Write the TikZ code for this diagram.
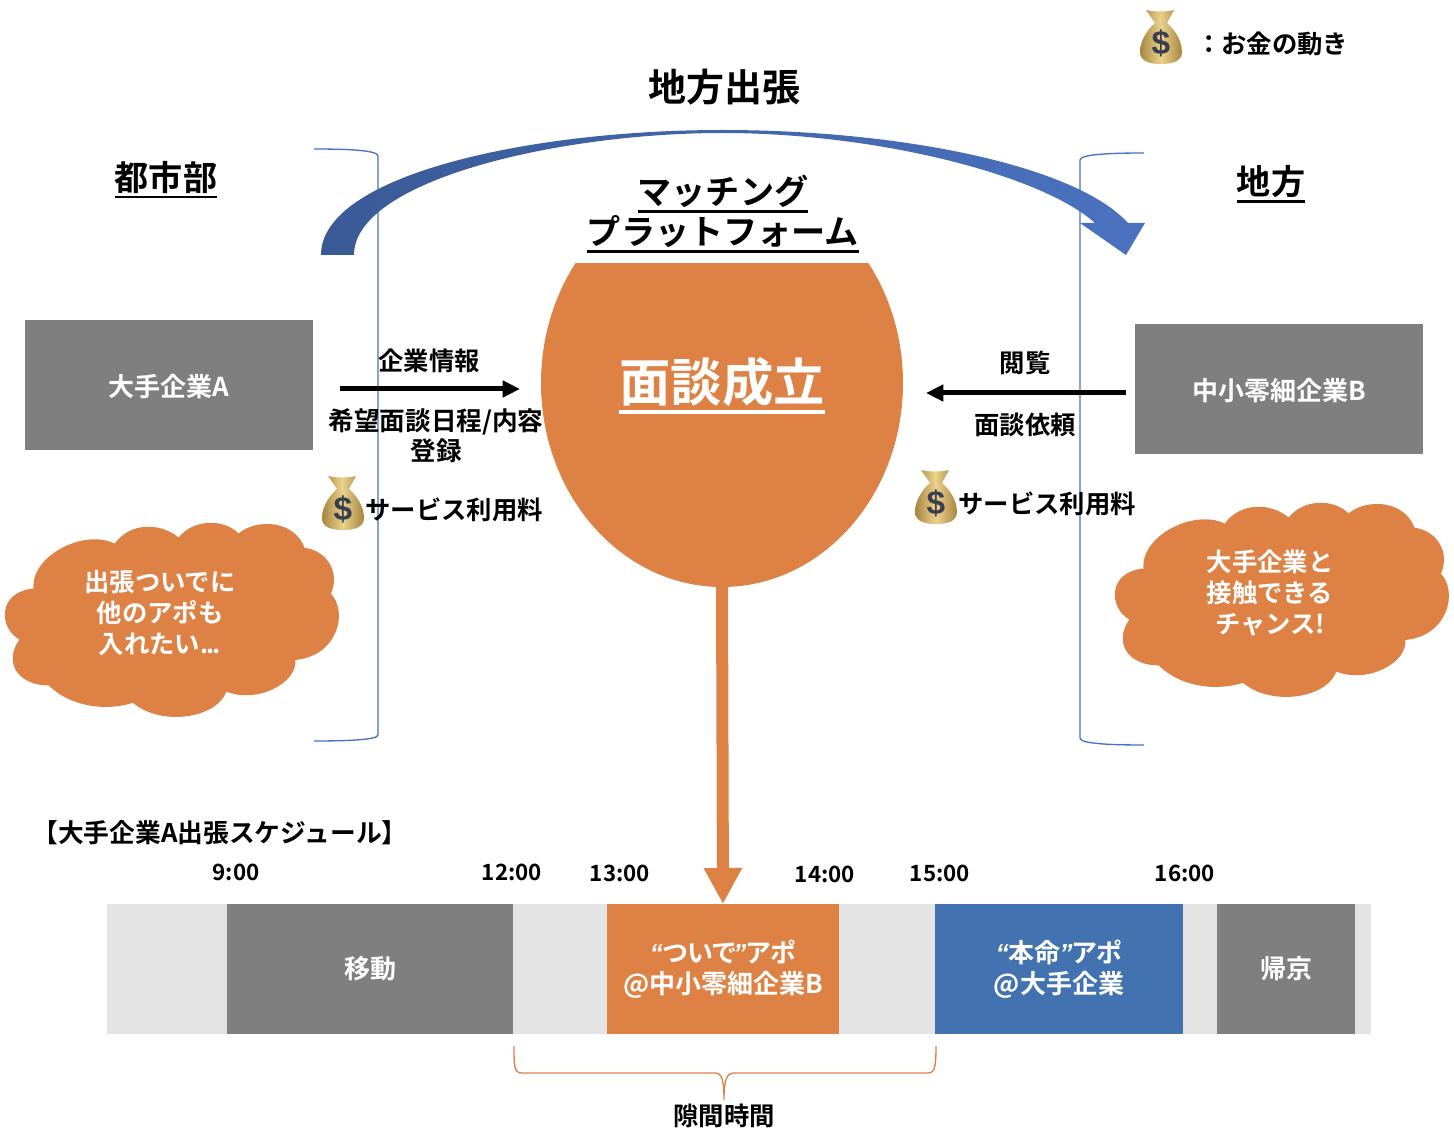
\documentclass[tikz,border=0pt]{standalone}
\usepackage{fontspec}
\setmainfont{Noto Sans CJK JP}[BoldFont={* Bold}]
\newfontfamily\latfont{Liberation Sans}[BoldFont={* Bold}]
\usetikzlibrary{arrows.meta,positioning,shapes.geometric}
\definecolor{Ink}{HTML}{000000}
\definecolor{Orange}{HTML}{DE8144}
\definecolor{GrayBox}{HTML}{7F7F7F}
\definecolor{BandGray}{HTML}{E4E4E4}
\definecolor{BlueBox}{HTML}{4272AF}
\definecolor{Bracket}{HTML}{4472C4}
\definecolor{ArrowDark}{HTML}{3A5A96}
\definecolor{ArrowLight}{HTML}{4A72BF}
\definecolor{BagDark}{HTML}{A98540}
\definecolor{BagLight}{HTML}{E9D28C}
\definecolor{BagMid}{HTML}{BD9A50}
\definecolor{Dollar}{HTML}{3A3F50}
\newcommand{\ultext}[1]{\vtop{\hbox{#1}\kern.06em\hrule height .075em}}
\newcommand{\qq}[1]{{\latfont\itshape #1}}
\newcommand{\palt}[1]{{\addfontfeature{RawFeature=+palt}#1}}
\newcommand{\padtop}[2]{\raisebox{0pt}[\dimexpr\height+#1\relax][\depth]{#2}}
\tikzset{
  companybox/.style={fill=GrayBox,minimum width=216pt,minimum height=97.5pt,inner sep=0pt,outer sep=0pt,align=center,font=\fontsize{19.5}{24}\selectfont\bfseries,text=white},
  slotbox/.style={minimum height=97.5pt,inner sep=0pt,outer sep=0pt,align=center,font=\fontsize{19.5}{23}\selectfont\bfseries,text=white},
  label/.style={inner sep=0pt,align=center,font=\fontsize{19}{22.5}\selectfont\bfseries,text=Ink},
  timelabel/.style={inner sep=0pt,font=\fontsize{16.8}{22}\selectfont\bfseries,text=Ink},
  headtext/.style={inner sep=0pt,align=center,font=\fontsize{25.6}{30}\selectfont\bfseries,text=Ink},
  cloudtext/.style={inner sep=0pt,align=center,font=\fontsize{19}{23.25}\selectfont\bfseries,text=white},
  platform/.style={ellipse,fill=Orange,minimum width=271.5pt,minimum height=306pt,inner sep=0pt,outer sep=0pt,font=\fontsize{38.5}{44}\selectfont\bfseries,text=white},
  sideline/.style={draw=Bracket,line width=1pt},
  flowline/.style={-{Triangle[length=13pt,width=12pt]},draw=Ink,line width=3.75pt},
  resultline/.style={-{Triangle[length=27pt,width=27pt]},draw=Orange,line width=9pt},
  gapline/.style={draw=Orange,line width=1pt},
  pics/thoughtcloud/.style={code={
    \fill[Orange,xshift=-1.5pt,xscale=1.015,yscale=1.02] (35,77) .. controls (32,45) and (85,18) .. (115,33)
      .. controls (130,12) and (160,12) .. (178,27)
      .. controls (192,9) and (222,8) .. (237,23)
      .. controls (255,8) and (292,10) .. (302,37)
      .. controls (325,40) and (337,62) .. (328,82)
      .. controls (345,100) and (335,143) .. (293,147)
      .. controls (295,170) and (255,190) .. (225,178)
      .. controls (215,205) and (160,212) .. (133,189)
      .. controls (105,198) and (70,192) .. (50,172)
      .. controls (20,172) and (5,150) .. (21,127)
      .. controls (0,115) and (0,80) .. (35,77) -- cycle;
  }},
  pics/moneybag/.style={code={
    \path[left color=BagDark,right color=BagDark,middle color=BagLight] (-6,-14)
      .. controls (-13,-8) and (-21,3) .. (-21,15)
      .. controls (-21,25) and (-10,27) .. (0,27)
      .. controls (10,27) and (21,25) .. (21,15)
      .. controls (21,3) and (13,-8) .. (6,-14) -- cycle;
    \path[left color=BagMid,right color=BagMid,middle color=BagLight] (-6,-14) -- (-15,-27)
      .. controls (-6,-25) and (5,-25) .. (13,-27) -- (6,-14)
      .. controls (2,-12) and (-2,-12) .. (-6,-14) -- cycle;
    \node[inner sep=0pt,text=Dollar,font=\latfont\bfseries\fontsize{25}{25}\selectfont] (-dollar) at (0,6) {\$};
  }}
}
\begin{document}
\begin{tikzpicture}[x=0.75pt,y=-0.75pt]
  \useasboundingbox (0,0) rectangle (1454,1134);
  % brackets
  \draw[sideline] (314,149) .. controls (345,149) and (378,150) .. (378,156) -- (378,735) .. controls (378,740) and (345,741) .. (314,741);
  \draw[sideline] (1144,153) .. controls (1113,153) and (1080,154) .. (1080,160) -- (1080,738) .. controls (1080,744) and (1113,745) .. (1144,745);
  % curved arrow
  \path[left color=ArrowDark,right color=ArrowLight] (321,255)
    .. controls (321,175) and (530,130) .. (722,130)
    .. controls (900,130) and (1075,165) .. (1128,223)
    -- (1145,223) -- (1126,255) -- (1080,223) -- (1095,223)
    .. controls (1043,176) and (880,133) .. (722,133)
    .. controls (560,133) and (354,180) .. (354,255) -- cycle;
  \node[headtext,font=\fontsize{28.5}{34}\selectfont\bfseries] (trip) at (724,87) {地方出張};
  % legend
  \pic (bagLegend) at (1161,37) {moneybag};
  \node[label] (legend) at (1272,44) {：お金の動き};
  % sides
  \node[headtext] (city) at (166,180) {\ultext{都市部}};
  \node[headtext] (local) at (1271,184) {\ultext{地方}};
  \node[headtext] (title) at (723,214) {\ultext{マッチング}\\\ultext{プラットフォーム}};
  \begin{scope}
    \clip (500,264) rectangle (950,600);
    \node[platform] (match) at (722,383) {\padtop{3.8pt}{\ultext{面談成立}}};
  \end{scope}
  \node[companybox] (compA) at (169,385) {\padtop{2.2pt}{大手企業A}};
  \node[companybox] (compB) at (1279,389) {\padtop{2.2pt}{中小零細企業B}};
  % flows
  \coordinate (infoL) at (340,389);
  \coordinate (infoR) at (520,389);
  \coordinate (viewR) at (1126,393);
  \coordinate (viewL) at (926,393);
  \draw[flowline] (infoL) -- (infoR);
  \draw[flowline] (viewR) -- (viewL);
  \node[label] (info) at (429,361) {企業情報};
  \node[label,font=\fontsize{19.2}{22.5}\selectfont\bfseries] (entry) at (436,436) {希望面談日程/内容\\登録};
  \node[label] (view) at (1025,363) {閲覧};
  \node[label] (request) at (1025,425) {面談依頼};
  \pic (bagA) at (343,503) {moneybag};
  \pic (bagB) at (936,497) {moneybag};
  \node[label] (feeA) at (454,510) {サービス利用料};
  \node[label] (feeB) at (1047,504) {サービス利用料};
  % clouds
  \pic (cloudA) at (0,510) {thoughtcloud};
  \pic (cloudB) at (1110,490) {thoughtcloud};
  \node[cloudtext] (wishA) at (160,612.5) {出張ついでに\\他のアポも\\入れたい.\kern-1.5pt.\kern-1.5pt.};
  \node[cloudtext] (wishB) at (1270,593) {大手企業と\\接触できる\\チャンス!};
  % schedule
  \node[label,font=\fontsize{19.3}{24}\selectfont\bfseries] (sched) at (220,833) {【大手企業A出張スケジュール】};
  \node[timelabel] (t9) at (236,872) {9:00};
  \node[timelabel] (t12) at (512,872) {12:00};
  \node[timelabel] (t13) at (620,873) {13:00};
  \node[timelabel] (t14) at (825,874) {14:00};
  \node[timelabel] (t15) at (940,873) {15:00};
  \node[timelabel] (t16) at (1185,873) {16:00};
  \node[slotbox,fill=BandGray,minimum width=948pt] (band) at (739,969) {};
  \node[slotbox,fill=GrayBox,minimum width=214.5pt] (move) at (370,969) {移動};
  \node[slotbox,fill=Orange,minimum width=174pt] (extra) at (723,969) {\qq{“}\palt{ついで}\kern-.1em\qq{”}\palt{アポ}\\@中小零細企業B};
  \node[slotbox,fill=BlueBox,minimum width=186pt] (mainslot) at (1059,969) {\qq{“}本命\kern-.05em\qq{”}\palt{アポ}\\@大手企業};
  \node[slotbox,fill=GrayBox,minimum width=103.5pt] (back) at (1286,969) {帰京};
  \draw[resultline] (match.south) -- (extra.north);
  % gap brace
  \coordinate (gapL) at (514,1046);
  \coordinate (gapR) at (936,1046);
  \node[label] (gap) at (724,1116) {隙間時間};
  \draw[gapline] (gapL) .. controls (514,1066) and (514,1073) .. (522,1073) -- (715,1073)
    .. controls (722,1073) and (724,1080) .. (724,1100)
    .. controls (724,1080) and (727,1073) .. (733,1073) -- (928,1073)
    .. controls (935,1073) and (936,1066) .. (gapR);
\end{tikzpicture}
\end{document}
